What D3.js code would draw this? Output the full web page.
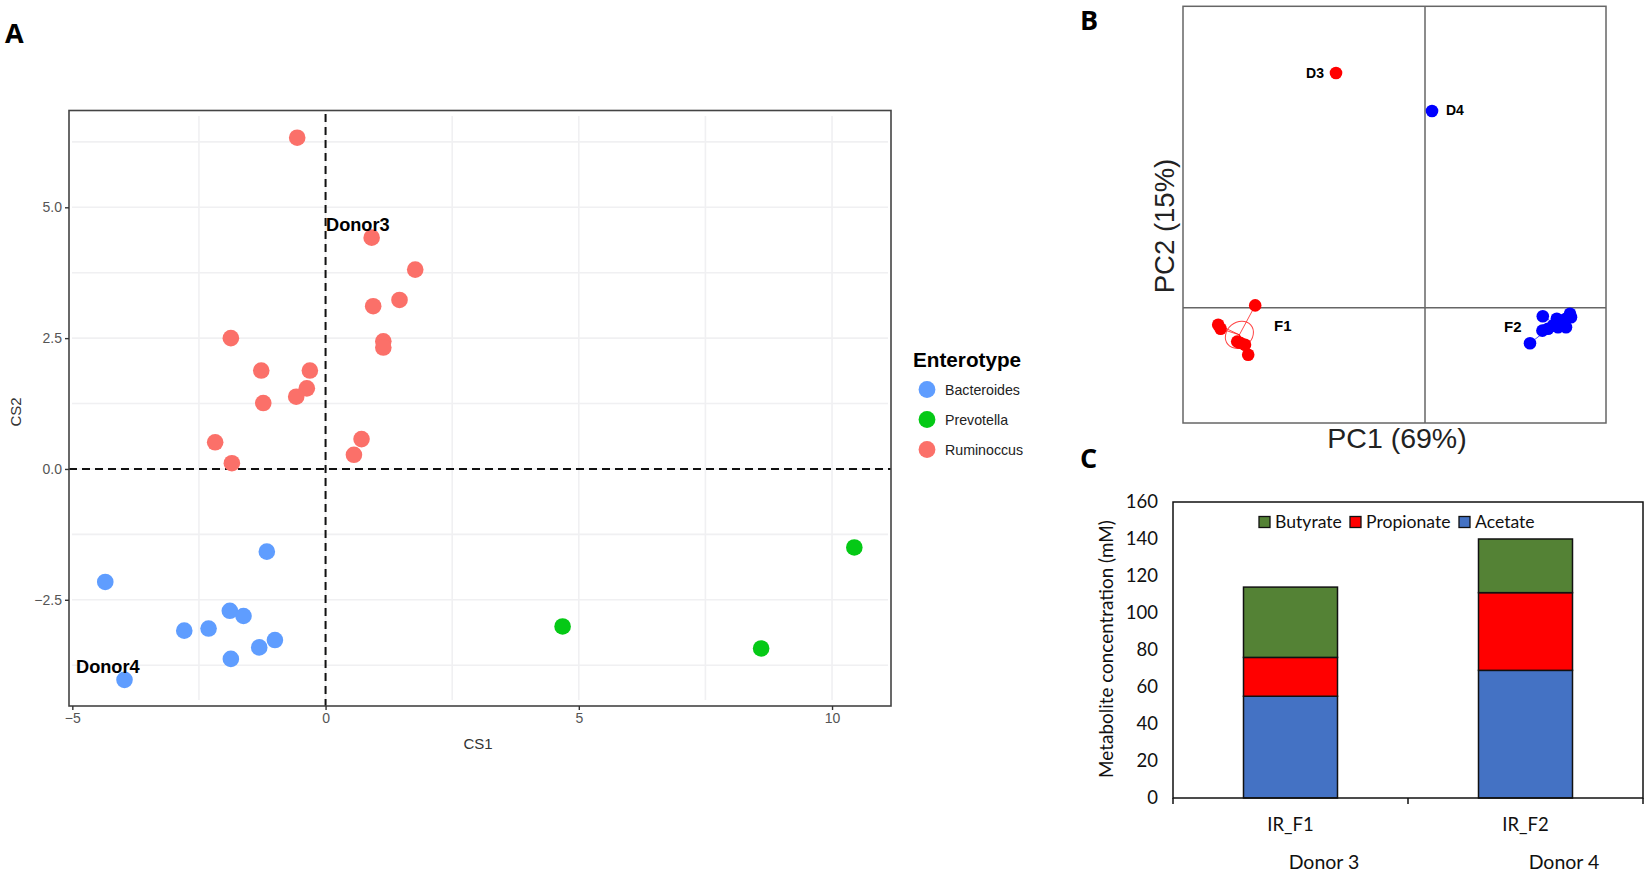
<!DOCTYPE html>
<html>
<head>
<meta charset="utf-8">
<script src="https://cdn.jsdelivr.net/npm/d3@7"></script>
<style>
body{margin:0;background:#fff;}
svg{display:block;}
.panel{font-family:"Open Sans";font-weight:700;font-size:27px;fill:#000;}
.cal{font-family:Lato;fill:#111;}
.arial{font-family:"Liberation Sans";}
</style>
</head>
<body>
<div id="chart"></div>
<script>
// panel A
var bacteroides=[[-4.35,-2.16],[-1.16,-1.58],[-2.79,-3.09],[-2.31,-3.05],[-1.89,-2.71],[-1.62,-2.81],[-1.0,-3.27],[-1.31,-3.41],[-1.87,-3.63],[-3.97,-4.03]];
var prevotella=[[4.68,-3.01],[10.44,-1.5],[8.6,-3.43]];
var ruminoccus=[[-0.56,6.33],[0.91,4.42],[1.77,3.81],[0.94,3.11],[1.46,3.23],[1.14,2.44],[1.14,2.32],[-1.87,2.5],[-1.27,1.88],[-0.31,1.88],[-0.37,1.54],[-0.58,1.38],[-1.23,1.26],[0.71,0.57],[0.56,0.27],[-2.18,0.51],[-1.85,0.11]];
var enterotypes=['Bacteroides','Prevotella','Ruminoccus'];
var enterotypeColors=['#5f9dff','#05c916','#fb7069'];
var xTicksA=[-5,0,5,10];
var yTicksA=[-2.5,0,2.5,5];
var xGridA=[-2.5,0,2.5,5,7.5,10];
var yGridA=[-3.75,-2.5,-1.25,0,1.25,2.5,3.75,5,6.25];
// panel B
var f1Points=[[-0.849,0.012],[-1.034,-0.085],[-1.022,-0.105],[-0.939,-0.169],[-0.925,-0.175],[-0.9,-0.185],[-0.884,-0.235]];
var f2Points=[[0.589,-0.042],[0.587,-0.114],[0.525,-0.177],[0.725,-0.03],[0.73,-0.047],[0.659,-0.055],[0.705,-0.055],[0.64,-0.089],[0.665,-0.097],[0.705,-0.097],[0.615,-0.105],[0.68,-0.074]];
var f1Center=[-0.928,-0.135];
var f2Center=[0.65,-0.08];
var d3Point=[-0.445,1.174];
var d4Point=[0.035,0.984];
// panel C
var samples=['IR_F1','IR_F2'];
var donors=['Donor 3','Donor 4'];
var acetate=[55,69];
var propionate=[21,42];
var butyrate=[38,29];
var yTicksC=[0,20,40,60,80,100,120,140,160];

var svg=d3.select('#chart').append('svg').attr('width',1650).attr('height',876);

svg.append('text').attr('class','panel').attr('x',5).attr('y',43).text('A');
svg.append('text').attr('class','panel').attr('x',1080).attr('y',30).text('B');
svg.append('text').attr('class','panel').attr('x',1080).attr('y',468).text('C');

/* panel A */
var xA=d3.scaleLinear().domain([-5.05,11.18]).range([69.8,891.8]);
var yA=d3.scaleLinear().domain([-4.53,6.85]).range([706,110.5]);
var gA=svg.append('g').attr('class','arial');
gA.selectAll('.gx').data(xGridA).enter().append('line').attr('x1',function(d){return xA(d);}).attr('x2',function(d){return xA(d);}).attr('y1',116).attr('y2',700).attr('stroke','#f0f0f2').attr('stroke-width',1.6);
gA.selectAll('.gy').data(yGridA).enter().append('line').attr('y1',function(d){return yA(d);}).attr('y2',function(d){return yA(d);}).attr('x1',72).attr('x2',888).attr('stroke','#f0f0f2').attr('stroke-width',1.6);
gA.append('line').attr('x1',xA(0)).attr('x2',xA(0)).attr('y1',114).attr('y2',706).attr('stroke','#111').attr('stroke-width',2).attr('stroke-dasharray','8 5');
gA.append('line').attr('y1',yA(0)).attr('y2',yA(0)).attr('x1',69).attr('x2',891).attr('stroke','#111').attr('stroke-width',2).attr('stroke-dasharray','8 5');
gA.append('rect').attr('x',69).attr('y',110.5).attr('width',822).attr('height',595.5).attr('fill','none').attr('stroke','#444').attr('stroke-width',1.6);
var fmtMinus=function(s){return String(s).replace('-','\u2212');};
var axA=gA.append('g').attr('transform','translate(0,706)').call(d3.axisBottom(xA).tickValues(xTicksA).tickFormat(function(d){return fmtMinus(d);}).tickSize(4).tickSizeOuter(0));
var ayA=gA.append('g').attr('transform','translate(69,0)').call(d3.axisLeft(yA).tickValues(yTicksA).tickFormat(function(d){return fmtMinus(d.toFixed(1));}).tickSize(4).tickSizeOuter(0));
[axA,ayA].forEach(function(a){
  a.select('.domain').remove();
  a.selectAll('text').attr('font-family','Liberation Sans').attr('font-size',14).attr('fill','#555');
  a.selectAll('line').attr('stroke','#333').attr('stroke-width',1.4);
});
gA.append('text').attr('x',478).attr('y',749).attr('text-anchor','middle').attr('font-size',15).attr('fill','#333').text('CS1');
gA.append('text').attr('transform','translate(21,412) rotate(-90)').attr('text-anchor','middle').attr('font-size',15).attr('fill','#333').text('CS2');
[bacteroides,prevotella,ruminoccus].forEach(function(s,i){
  gA.selectAll('.p'+i).data(s).enter().append('circle').attr('cx',function(d){return xA(d[0]);}).attr('cy',function(d){return yA(d[1]);}).attr('r',8.3).attr('fill',enterotypeColors[i]);
});
gA.append('text').attr('x',326).attr('y',231).attr('font-size',18.2).attr('font-weight',700).text('Donor3');
gA.append('text').attr('x',76).attr('y',673).attr('font-size',18.2).attr('font-weight',700).text('Donor4');
gA.append('text').attr('x',913).attr('y',367).attr('font-size',20.7).attr('font-weight',700).text('Enterotype');
var legendA=d3.scalePoint().domain(enterotypes).range([389.5,449.5]);
gA.selectAll('.lk').data(enterotypes).enter().append('circle').attr('cx',927).attr('cy',function(d){return legendA(d);}).attr('r',8.4).attr('fill',function(d,i){return enterotypeColors[i];});
gA.selectAll('.lt').data(enterotypes).enter().append('text').attr('x',945).attr('y',function(d){return legendA(d)+5;}).attr('font-size',14.2).attr('fill','#222').text(function(d){return d;});

/* panel B */
var xB=d3.scaleLinear().domain([-1.21,0.905]).range([1183,1606]);
var yB=d3.scaleLinear().domain([-0.5785,1.505]).range([423.5,6.8]);
var gB=svg.append('g').attr('class','arial');
gB.append('rect').attr('x',1183).attr('y',6.3).attr('width',423).attr('height',416.7).attr('fill','none').attr('stroke','#666').attr('stroke-width',1.5);
gB.append('line').attr('x1',xB(0)).attr('x2',xB(0)).attr('y1',6.3).attr('y2',423).attr('stroke','#666').attr('stroke-width',1.5);
gB.append('line').attr('y1',yB(0)).attr('y2',yB(0)).attr('x1',1183).attr('x2',1606).attr('stroke','#666').attr('stroke-width',1.5);
function spider(pts,c,col){
  gB.selectAll(null).data(pts).enter().append('line').attr('x1',xB(c[0])).attr('y1',yB(c[1])).attr('x2',function(d){return xB(d[0]);}).attr('y2',function(d){return yB(d[1]);}).attr('stroke',col).attr('stroke-width',1).attr('opacity',0.7);
}
spider(f1Points,f1Center,'#f00');
spider(f2Points,f2Center,'#00f');
gB.append('ellipse').attr('transform','translate('+xB(f1Center[0])+','+yB(f1Center[1])+') rotate(-40)').attr('rx',15).attr('ry',12.5).attr('fill','none').attr('stroke','#f44').attr('stroke-width',1);
gB.selectAll('.f1').data(f1Points.concat([d3Point])).enter().append('circle').attr('cx',function(d){return xB(d[0]);}).attr('cy',function(d){return yB(d[1]);}).attr('r',6.3).attr('fill','#f00');
gB.selectAll('.f2').data(f2Points.concat([d4Point])).enter().append('circle').attr('cx',function(d){return xB(d[0]);}).attr('cy',function(d){return yB(d[1]);}).attr('r',6.3).attr('fill','#00f');
gB.append('text').attr('x',1324).attr('y',78).attr('text-anchor','end').attr('font-size',14).attr('font-weight',700).text('D3');
gB.append('text').attr('x',1446).attr('y',115).attr('font-size',14).attr('font-weight',700).text('D4');
gB.append('text').attr('x',1274).attr('y',331).attr('font-size',15).attr('font-weight',700).text('F1');
gB.append('text').attr('x',1504).attr('y',332).attr('font-size',15).attr('font-weight',700).text('F2');
gB.append('text').attr('x',1397).attr('y',448).attr('text-anchor','middle').attr('font-size',28.5).attr('fill','#222').text('PC1 (69%)');
gB.append('text').attr('transform','translate(1174,226) rotate(-90)').attr('text-anchor','middle').attr('font-size',27.5).attr('fill','#222').text('PC2 (15%)');

/* panel C */
var xC=d3.scaleBand().domain(samples).range([1173,1643]).paddingInner(0.6).paddingOuter(0.3);
var yC=d3.scaleLinear().domain([0,160]).range([798,502]);
var gC=svg.append('g').attr('class','cal');
var rowsC=samples.map(function(s,i){return {sample:s,Acetate:acetate[i],Propionate:propionate[i],Butyrate:butyrate[i]};});
var stackC=d3.stack().keys(['Acetate','Propionate','Butyrate'])(rowsC);
var stackColors={Acetate:'#4472c4',Propionate:'#ff0000',Butyrate:'#548235'};
stackC.forEach(function(layer){
  gC.selectAll(null).data(layer).enter().append('rect')
    .attr('x',function(d){return xC(d.data.sample);}).attr('width',xC.bandwidth())
    .attr('y',function(d){return yC(d[1]);}).attr('height',function(d){return yC(d[0])-yC(d[1]);})
    .attr('fill',stackColors[layer.key]).attr('stroke','#111').attr('stroke-width',1.5);
});
gC.append('rect').attr('x',1173).attr('y',502).attr('width',470).attr('height',296).attr('fill','none').attr('stroke','#111').attr('stroke-width',1.5);
var ayC=gC.append('g').attr('transform','translate(1173,0)').call(d3.axisLeft(yC).tickValues(yTicksC).tickSize(0).tickPadding(15));
ayC.select('.domain').remove();
ayC.selectAll('text').attr('font-family','Lato').attr('font-size',18.5).attr('fill','#111');
gC.selectAll('.tc').data([0,1,2]).enter().append('line').attr('x1',function(d){return 1173+d*xC.step();}).attr('x2',function(d){return 1173+d*xC.step();}).attr('y1',798).attr('y2',804).attr('stroke','#111').attr('stroke-width',1.5);
gC.selectAll('.sl').data(samples).enter().append('text').attr('x',function(d){return xC(d)+xC.bandwidth()/2;}).attr('y',831).attr('text-anchor','middle').attr('font-size',18.5).text(function(d){return d;});
gC.selectAll('.dl').data(donors).enter().append('text').attr('x',function(d,i){return [1324,1564][i];}).attr('y',869).attr('text-anchor','middle').attr('font-size',19.5).text(function(d){return d;});
gC.append('text').attr('transform','translate(1113,649) rotate(-90)').attr('text-anchor','middle').attr('font-size',18.9).text('Metabolite concentration (mM)');
var legC=[['Butyrate',1259],['Propionate',1350],['Acetate',1459]];
legC.forEach(function(l){
  gC.append('rect').attr('x',l[1]).attr('y',516.5).attr('width',11).attr('height',11).attr('fill',stackColors[l[0]]).attr('stroke','#111').attr('stroke-width',1.3);
  gC.append('text').attr('x',l[1]+16).attr('y',528).attr('font-size',17.6).text(l[0]);
});
</script>
</body>
</html>
